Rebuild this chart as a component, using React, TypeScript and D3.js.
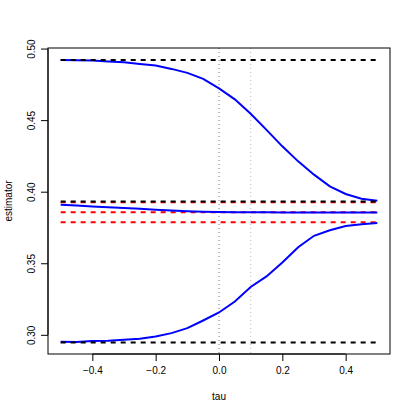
import React, { useEffect, useRef } from 'react';
import * as d3 from 'd3';

const tauGrid = [-0.5, -0.45, -0.4, -0.35, -0.3, -0.25, -0.2, -0.15, -0.1, -0.05, 0, 0.05, 0.1, 0.15, 0.2, 0.25, 0.3, 0.35, 0.4, 0.45, 0.5];

// blue estimator curves
const upperEst = [0.4921, 0.4918, 0.4916, 0.4909, 0.4904, 0.4893, 0.4881, 0.4858, 0.483, 0.4788, 0.4722, 0.4645, 0.4545, 0.4432, 0.4317, 0.4212, 0.4119, 0.4037, 0.3984, 0.3951, 0.3937];
const middleEst = [0.3909, 0.3903, 0.3897, 0.3891, 0.3886, 0.388, 0.3874, 0.3868, 0.3863, 0.386, 0.3858, 0.3857, 0.3856, 0.3856, 0.3855, 0.3855, 0.3855, 0.3855, 0.3855, 0.3855, 0.3855];
const lowerEst = [0.2951, 0.295, 0.2956, 0.2958, 0.2965, 0.2972, 0.2988, 0.3012, 0.3047, 0.31, 0.3156, 0.3233, 0.3334, 0.3408, 0.3505, 0.3612, 0.3692, 0.3731, 0.376, 0.3772, 0.3781];

// horizontal reference levels
const blackLevels = [0.4921, 0.3932, 0.2947];
const redLevels = [0.3926, 0.3857, 0.3787];

// vertical markers
const vLines = [0, 0.1];
const vColors = ['#777777', '#bbbbbb'];

const xTicks = [-0.4, -0.2, 0, 0.2, 0.4];
const yTicks = [0.3, 0.35, 0.4, 0.45, 0.5];

const App = () => {
  const ref = useRef<SVGSVGElement>(null);

  useEffect(() => {
    const width = 415;
    const height = 415;
    const margin = { top: 48, right: 25, bottom: 61, left: 48 };

    const svg = d3.select(ref.current);
    svg.selectAll('*').remove();

    const x = d3.scaleLinear().domain([-0.54, 0.54]).range([margin.left, width - margin.right]);
    const y = d3.scaleLinear().domain([0.2866, 0.5004]).range([height - margin.bottom, margin.top]);

    const font = 'Liberation Sans, Arial, sans-serif';

    // vertical dotted lines
    vLines.forEach((v, i) => {
      svg.append('line')
        .attr('x1', x(v)).attr('x2', x(v))
        .attr('y1', margin.top).attr('y2', height - margin.bottom)
        .attr('stroke', vColors[i])
        .attr('stroke-width', 1)
        .attr('stroke-dasharray', '1,3');
    });

    const line = d3.line<number>()
      .x((d, i) => x(tauGrid[i]))
      .y((d) => y(d));

    // red dashed levels
    redLevels.forEach((v) => {
      svg.append('line')
        .attr('x1', x(-0.5)).attr('x2', x(0.5))
        .attr('y1', y(v)).attr('y2', y(v))
        .attr('stroke', '#ff0000')
        .attr('stroke-width', 2)
        .attr('stroke-dasharray', '5,5');
    });

    // blue curves
    [upperEst, middleEst, lowerEst].forEach((s) => {
      svg.append('path')
        .attr('d', line(s))
        .attr('fill', 'none')
        .attr('stroke', '#0000ff')
        .attr('stroke-width', 2);
    });

    // black dashed levels
    blackLevels.forEach((v) => {
      svg.append('line')
        .attr('x1', x(-0.5)).attr('x2', x(0.5))
        .attr('y1', y(v)).attr('y2', y(v))
        .attr('stroke', '#000000')
        .attr('stroke-width', 2)
        .attr('stroke-dasharray', '5,5');
    });

    // box
    svg.append('rect')
      .attr('x', margin.left).attr('y', margin.top)
      .attr('width', width - margin.left - margin.right)
      .attr('height', height - margin.top - margin.bottom)
      .attr('fill', 'none')
      .attr('stroke', '#000')
      .attr('stroke-width', 1);

    // x axis
    const xAxis = svg.append('g')
      .attr('transform', `translate(0,${height - margin.bottom})`)
      .call(d3.axisBottom(x).tickValues(xTicks).tickSize(7).tickSizeOuter(0).tickPadding(6).tickFormat(d3.format('.1f')));
    xAxis.select('.domain').attr('d', `M${x(-0.4)},0H${x(0.4)}`);
    xAxis.selectAll('text').attr('font-size', 10).attr('font-family', font).attr('fill', '#000').text((d: any) => d3.format('.1f')(d).replace('-', '\u2212'));

    // y axis
    const yAxis = svg.append('g')
      .attr('transform', `translate(${margin.left},0)`)
      .call(d3.axisLeft(y).tickValues(yTicks).tickSize(7).tickSizeOuter(0).tickFormat(d3.format('.2f')));
    yAxis.select('.domain').attr('d', `M0,${y(0.3)}V${y(0.5)}`);
    yAxis.selectAll('.tick text')
      .attr('font-size', 10)
      .attr('font-family', font)
      .attr('fill', '#000')
      .attr('x', null)
      .attr('dy', null)
      .attr('text-anchor', 'middle')
      .attr('transform', 'translate(-13,0) rotate(-90)');

    // axis titles
    svg.append('text')
      .attr('x', x(0)).attr('y', 400)
      .attr('text-anchor', 'middle')
      .attr('font-size', 10).attr('font-family', font)
      .text('tau');

    svg.append('text')
      .attr('transform', `translate(12,${(margin.top + height - margin.bottom) / 2}) rotate(-90)`)
      .attr('text-anchor', 'middle')
      .attr('font-size', 10).attr('font-family', font)
      .text('estimator');
  }, []);

  return (
    <svg ref={ref} width={415} height={415} style={{ position: 'absolute', left: 0, top: 0, background: '#fff' }} />
  );
};

export default App;
